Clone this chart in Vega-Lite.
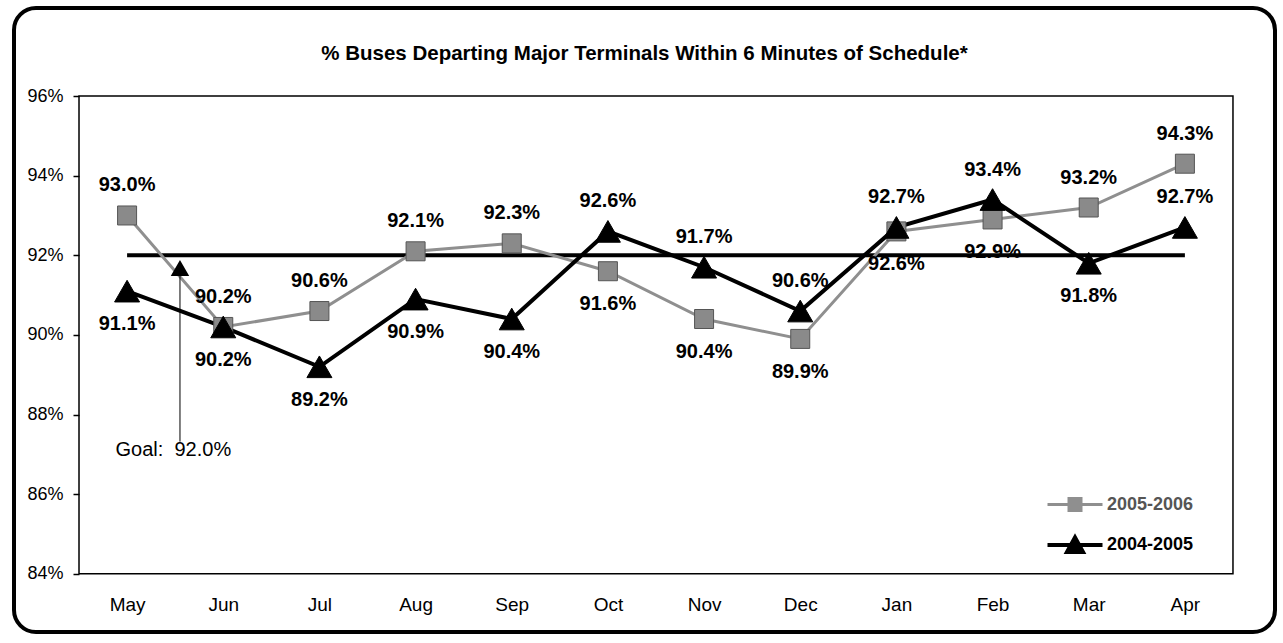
{
  "$schema": "https://vega.github.io/schema/vega-lite/v6.json",
  "width": 1261,
  "height": 624,
  "autosize": "none",
  "padding": {"left": 14, "top": 8, "right": 8, "bottom": 11},
  "background": "white",
  "title": {
    "text": "% Buses Departing Major Terminals Within 6 Minutes of Schedule*",
    "fontSize": 20.5,
    "fontWeight": "bold",
    "font": "Liberation Sans",
    "color": "black",
    "anchor": "middle",
    "frame": "group",
    "baseline": "middle",
    "offset": -66
  },
  "datasets": {
    "buses": [
      {"month": "May", "m": 0, "series": "2005-2006", "value": 0.930},
      {"month": "Jun", "m": 1, "series": "2005-2006", "value": 0.902},
      {"month": "Jul", "m": 2, "series": "2005-2006", "value": 0.906},
      {"month": "Aug", "m": 3, "series": "2005-2006", "value": 0.921},
      {"month": "Sep", "m": 4, "series": "2005-2006", "value": 0.923},
      {"month": "Oct", "m": 5, "series": "2005-2006", "value": 0.916},
      {"month": "Nov", "m": 6, "series": "2005-2006", "value": 0.904},
      {"month": "Dec", "m": 7, "series": "2005-2006", "value": 0.899},
      {"month": "Jan", "m": 8, "series": "2005-2006", "value": 0.926},
      {"month": "Feb", "m": 9, "series": "2005-2006", "value": 0.929},
      {"month": "Mar", "m": 10, "series": "2005-2006", "value": 0.932},
      {"month": "Apr", "m": 11, "series": "2005-2006", "value": 0.943},
      {"month": "May", "m": 0, "series": "2004-2005", "value": 0.911},
      {"month": "Jun", "m": 1, "series": "2004-2005", "value": 0.902},
      {"month": "Jul", "m": 2, "series": "2004-2005", "value": 0.892},
      {"month": "Aug", "m": 3, "series": "2004-2005", "value": 0.909},
      {"month": "Sep", "m": 4, "series": "2004-2005", "value": 0.904},
      {"month": "Oct", "m": 5, "series": "2004-2005", "value": 0.926},
      {"month": "Nov", "m": 6, "series": "2004-2005", "value": 0.917},
      {"month": "Dec", "m": 7, "series": "2004-2005", "value": 0.906},
      {"month": "Jan", "m": 8, "series": "2004-2005", "value": 0.927},
      {"month": "Feb", "m": 9, "series": "2004-2005", "value": 0.934},
      {"month": "Mar", "m": 10, "series": "2004-2005", "value": 0.918},
      {"month": "Apr", "m": 11, "series": "2004-2005", "value": 0.927}
    ],
    "goal": [{"goal": 0.92}]
  },
  "layer": [
    {
      "data": {"values": [{}]},
      "mark": {"type": "rect", "fill": "transparent", "stroke": "black", "strokeWidth": 1.5},
      "encoding": {
        "x": {"datum": -0.5, "type": "quantitative", "scale": {"domain": [-1.176, 11.937], "nice": false, "zero": false}},
        "x2": {"datum": 11.5},
        "y": {"datum": 0.84, "type": "quantitative", "scale": {"domain": [0.8254, 0.9821], "nice": false, "zero": false}},
        "y2": {"datum": 0.96}
      }
    },
    {
      "data": {"name": "goal"},
      "mark": {"type": "rule", "stroke": "black", "strokeWidth": 4},
      "encoding": {
        "x": {"datum": 0, "type": "quantitative", "scale": {"domain": [-1.176, 11.937], "nice": false, "zero": false}},
        "x2": {"datum": 11},
        "y": {"field": "goal", "type": "quantitative", "scale": {"domain": [0.8254, 0.9821], "nice": false, "zero": false}}
      }
    },
    {
      "data": {"name": "buses"},
      "mark": {"type": "line"},
      "encoding": {
        "x": {
          "field": "m", "type": "quantitative",
          "scale": {"domain": [-1.176, 11.937], "nice": false, "zero": false},
          "axis": {
            "title": null,
            "values": [0, 1, 2, 3, 4, 5, 6, 7, 8, 9, 10, 11],
            "labelExpr": "['May','Jun','Jul','Aug','Sep','Oct','Nov','Dec','Jan','Feb','Mar','Apr'][datum.value]"
          }
        },
        "y": {
          "field": "value", "type": "quantitative",
          "scale": {"domain": [0.8254, 0.9821], "nice": false, "zero": false},
          "axis": {
            "title": null,
            "values": [0.84, 0.86, 0.88, 0.9, 0.92, 0.94, 0.96],
            "format": ".0%",
            "ticks": true,
            "tickSize": 6,
            "tickColor": "#000000",
            "tickWidth": 1.5,
            "tickOpacity": 1,
            "labelPadding": 10
          }
        },
        "color": {
          "field": "series", "type": "nominal",
          "scale": {"domain": ["2005-2006", "2004-2005"], "range": ["#8f8f8f", "#000000"]},
          "legend": {
            "title": null,
            "orient": "none",
            "legendX": 1049,
            "legendY": 485,
            "symbolSize": 400,
            "symbolType": "square",
            "labelOffset": 20,
            "rowPadding": 12,
            "labelFont": "Liberation Sans",
            "labelFontSize": 18,
            "labelFontWeight": "bold",
            "labelColor": "black",
            "encode": {
              "symbols": {
                "update": {
                  "shape": {"signal": "datum.value === '2005-2006' ? 'M-2.75,0H-0.6M0.6,0H2.75M-0.6,-0.6H0.6V0.6H-0.6Z' : 'M-2.75,0H2.75M-0.8,0.7L0,-0.75L0.8,0.7Z'"},
                  "fill": {"signal": "datum.value === '2005-2006' ? '#8f8f8f' : '#000000'"},
                  "stroke": {"signal": "datum.value === '2005-2006' ? '#8f8f8f' : '#000000'"},
                  "strokeWidth": {"signal": "datum.value === '2005-2006' ? 3 : 4"},
                  "opacity": {"value": 1}
                }
              },
              "labels": {
                "update": {
                  "fill": {"signal": "datum.value === '2005-2006' ? '#555555' : '#000000'"}
                }
              }
            }
          }
        },
        "strokeWidth": {
          "field": "series", "type": "nominal",
          "scale": {"domain": ["2005-2006", "2004-2005"], "range": [3, 4]},
          "legend": null
        }
      }
    },
    {
      "data": {"name": "buses"},
      "transform": [{"filter": "datum.series === '2005-2006'"}],
      "mark": {"type": "point", "shape": "square", "size": 361, "filled": true, "fill": "#8a8a8a", "stroke": "#555555", "strokeWidth": 1, "opacity": 1},
      "encoding": {
        "x": {"field": "m", "type": "quantitative", "scale": {"domain": [-1.176, 11.937], "nice": false, "zero": false}},
        "y": {"field": "value", "type": "quantitative", "scale": {"domain": [0.8254, 0.9821], "nice": false, "zero": false}}
      }
    },
    {
      "data": {"name": "buses"},
      "transform": [{"filter": "datum.series === '2004-2005'"}],
      "mark": {"type": "point", "shape": "triangle-up", "size": 625, "filled": true, "fill": "#000000", "stroke": "#000000", "strokeWidth": 1, "opacity": 1},
      "encoding": {
        "x": {"field": "m", "type": "quantitative", "scale": {"domain": [-1.176, 11.937], "nice": false, "zero": false}},
        "y": {"field": "value", "type": "quantitative", "scale": {"domain": [0.8254, 0.9821], "nice": false, "zero": false}}
      }
    },
    {
      "data": {"name": "buses"},
      "transform": [
        {"filter": "(datum.series === '2005-2006' && indexof(['Oct','Nov','Dec','Jan','Feb'], datum.month) < 0) || (datum.series === '2004-2005' && indexof(['Oct','Nov','Dec','Jan','Feb','Apr'], datum.month) >= 0)"}
      ],
      "mark": {"type": "text", "dy": -30, "fontSize": 20, "fontWeight": "bold", "font": "Liberation Sans", "fill": "black", "baseline": "middle", "align": "center"},
      "encoding": {
        "x": {"field": "m", "type": "quantitative", "scale": {"domain": [-1.176, 11.937], "nice": false, "zero": false}},
        "y": {"field": "value", "type": "quantitative", "scale": {"domain": [0.8254, 0.9821], "nice": false, "zero": false}},
        "text": {"field": "value", "type": "quantitative", "format": ".1%"}
      }
    },
    {
      "data": {"name": "buses"},
      "transform": [
        {"filter": "!((datum.series === '2005-2006' && indexof(['Oct','Nov','Dec','Jan','Feb'], datum.month) < 0) || (datum.series === '2004-2005' && indexof(['Oct','Nov','Dec','Jan','Feb','Apr'], datum.month) >= 0))"}
      ],
      "mark": {"type": "text", "dy": 33, "fontSize": 20, "fontWeight": "bold", "font": "Liberation Sans", "fill": "black", "baseline": "middle", "align": "center"},
      "encoding": {
        "x": {"field": "m", "type": "quantitative", "scale": {"domain": [-1.176, 11.937], "nice": false, "zero": false}},
        "y": {"field": "value", "type": "quantitative", "scale": {"domain": [0.8254, 0.9821], "nice": false, "zero": false}},
        "text": {"field": "value", "type": "quantitative", "format": ".1%"}
      }
    },
    {
      "data": {"values": [{}]},
      "mark": {"type": "rule", "stroke": "black", "strokeWidth": 1},
      "encoding": {
        "x": {"datum": 0.55, "type": "quantitative", "scale": {"domain": [-1.176, 11.937], "nice": false, "zero": false}},
        "y": {"datum": 0.9167, "type": "quantitative", "scale": {"domain": [0.8254, 0.9821], "nice": false, "zero": false}},
        "y2": {"datum": 0.8732}
      }
    },
    {
      "data": {"values": [{}]},
      "mark": {"type": "point", "shape": "triangle-up", "filled": true, "size": 225, "fill": "black", "stroke": "black", "opacity": 1},
      "encoding": {
        "x": {"datum": 0.55, "type": "quantitative", "scale": {"domain": [-1.176, 11.937], "nice": false, "zero": false}},
        "y": {"datum": 0.9167, "type": "quantitative", "scale": {"domain": [0.8254, 0.9821], "nice": false, "zero": false}}
      }
    },
    {
      "data": {"values": [{}]},
      "mark": {"type": "text", "align": "left", "baseline": "middle", "fontSize": 20, "font": "Liberation Sans", "fill": "black", "text": "Goal:\u00a0\u00a092.0%"},
      "encoding": {
        "x": {"datum": -0.12, "type": "quantitative", "scale": {"domain": [-1.176, 11.937], "nice": false, "zero": false}},
        "y": {"datum": 0.8712, "type": "quantitative", "scale": {"domain": [0.8254, 0.9821], "nice": false, "zero": false}}
      }
    }
  ],
  "config": {
    "view": {"stroke": "black", "strokeWidth": 4, "cornerRadius": 22},
    "font": "Liberation Sans",
    "axisX": {
      "domain": false, "ticks": false, "tickSize": 0, "grid": false,
      "labelPadding": 21, "offset": -58,
      "labelFont": "Liberation Sans", "labelFontSize": 19, "labelColor": "black",
      "labelFlush": false, "labelOverlap": false
    },
    "axisY": {
      "domain": false, "ticks": true, "tickSize": 6, "tickColor": "#000000", "tickWidth": 1.5,
      "grid": false, "labelPadding": 10, "offset": -65,
      "labelFont": "Liberation Sans", "labelFontSize": 18, "labelColor": "black"
    }
  }
}
